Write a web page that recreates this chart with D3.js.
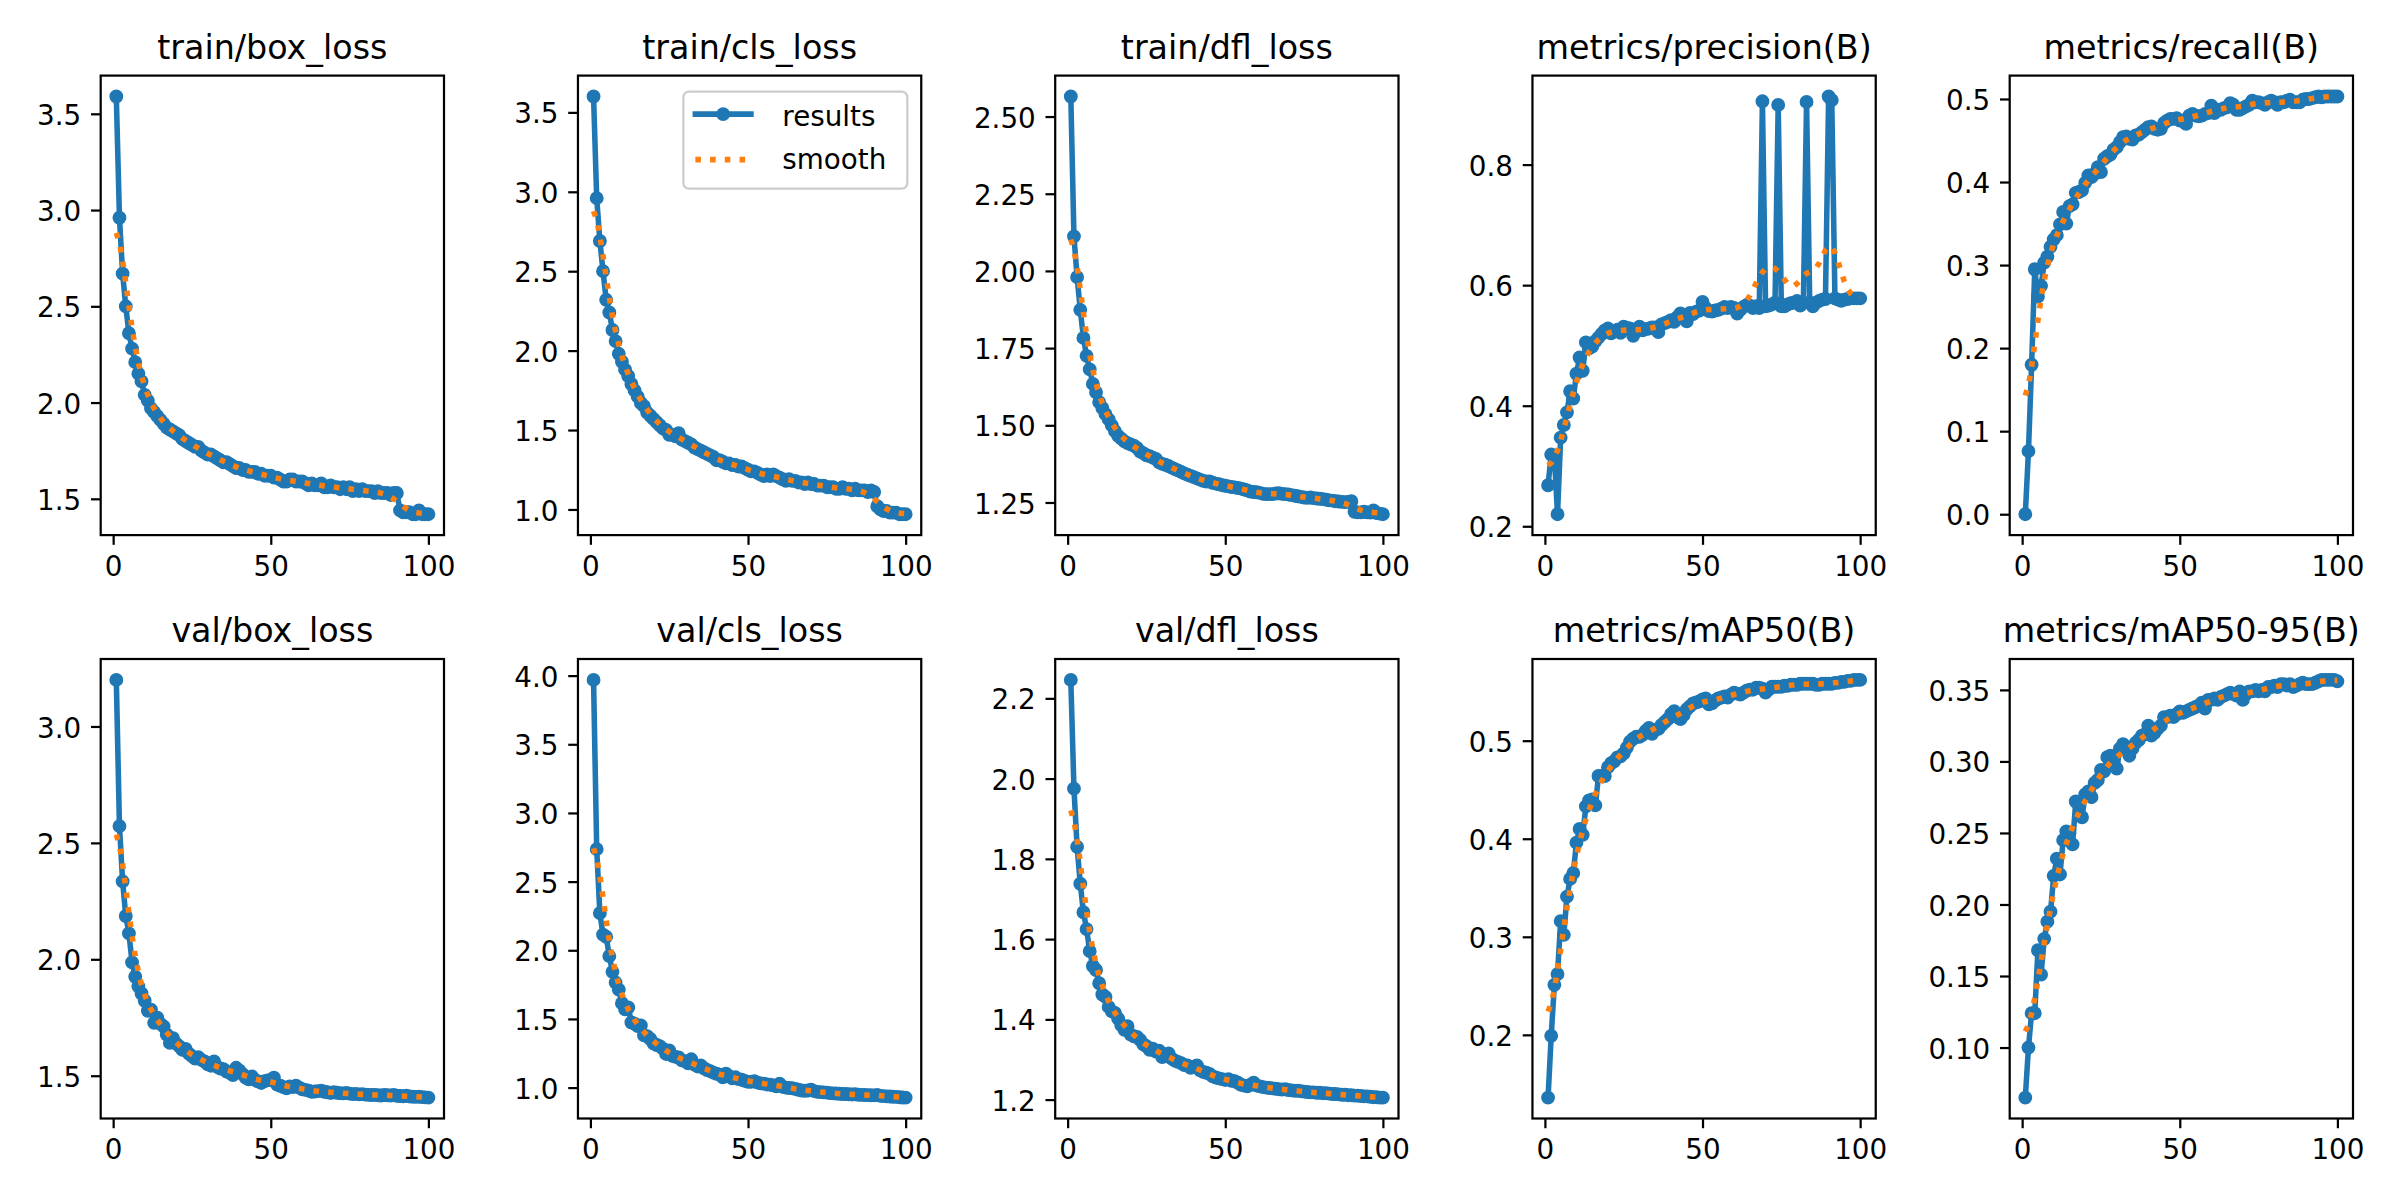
<!DOCTYPE html>
<html>
<head>
<meta charset="utf-8">
<script src="https://cdn.jsdelivr.net/npm/d3@7"></script>
<style>
  body { margin: 0; background: #ffffff; }
  svg { display: block; }
</style>
</head>
<body>
<svg id="chart" width="2400" height="1200"></svg>
<script>
// ---------------- DATA ----------------
const titles = [
  "train/box_loss", "train/cls_loss", "train/dfl_loss", "metrics/precision(B)", "metrics/recall(B)",
  "val/box_loss", "val/cls_loss", "val/dfl_loss", "metrics/mAP50(B)", "metrics/mAP50-95(B)"
];
const legendLabels = ["results", "smooth"];
const xTicks = [0, 50, 100];

const trainBoxLoss = [
  3.59, 2.96, 2.67, 2.50, 2.36, 2.28, 2.21, 2.15, 2.11, 2.04,
  2.01, 1.97, 1.95, 1.93, 1.91, 1.89, 1.87, 1.86, 1.85, 1.84,
  1.83, 1.81, 1.80, 1.79, 1.78, 1.77, 1.77, 1.75, 1.74, 1.73,
  1.73, 1.72, 1.71, 1.70, 1.69, 1.69, 1.68, 1.67, 1.66, 1.66,
  1.65, 1.65, 1.64, 1.64, 1.64, 1.63, 1.63, 1.62, 1.62, 1.62,
  1.61, 1.61, 1.60, 1.59, 1.59, 1.60, 1.60, 1.59, 1.59, 1.59,
  1.58, 1.57, 1.58, 1.57, 1.57, 1.58, 1.56, 1.56, 1.57, 1.56,
  1.56, 1.55, 1.56, 1.55, 1.56, 1.54, 1.55, 1.54, 1.55, 1.54,
  1.54, 1.54, 1.53, 1.54, 1.53, 1.53, 1.53, 1.52, 1.53, 1.53,
  1.44, 1.43, 1.43, 1.43, 1.42, 1.42, 1.44, 1.42, 1.42, 1.42
];
const trainClsLoss = [
  3.60, 2.96, 2.69, 2.50, 2.32, 2.24, 2.13, 2.06, 1.98, 1.93,
  1.88, 1.84, 1.79, 1.75, 1.71, 1.67, 1.65, 1.61, 1.59, 1.57,
  1.55, 1.53, 1.51, 1.50, 1.47, 1.47, 1.46, 1.48, 1.44, 1.43,
  1.42, 1.41, 1.39, 1.38, 1.37, 1.36, 1.35, 1.34, 1.33, 1.31,
  1.31, 1.30, 1.29, 1.29, 1.28, 1.28, 1.27, 1.27, 1.26, 1.25,
  1.24, 1.24, 1.23, 1.22, 1.21, 1.22, 1.21, 1.22, 1.21, 1.20,
  1.19, 1.18, 1.19, 1.18, 1.18, 1.17, 1.17, 1.16, 1.17, 1.16,
  1.16, 1.15, 1.15, 1.15, 1.14, 1.14, 1.14, 1.13, 1.13, 1.14,
  1.13, 1.13, 1.12, 1.13, 1.12, 1.12, 1.12, 1.11, 1.12, 1.11,
  1.02, 1.00, 0.99, 0.99, 0.98, 0.98, 0.98, 0.97, 0.97, 0.97
];
const trainDflLoss = [
  2.565, 2.112, 1.980, 1.874, 1.783, 1.725, 1.681, 1.634, 1.607, 1.575,
  1.556, 1.536, 1.519, 1.500, 1.481, 1.466, 1.457, 1.448, 1.442, 1.438,
  1.434, 1.427, 1.415, 1.410, 1.403, 1.400, 1.395, 1.391, 1.380, 1.375,
  1.372, 1.368, 1.363, 1.358, 1.354, 1.349, 1.344, 1.340, 1.336, 1.332,
  1.328, 1.324, 1.320, 1.318, 1.318, 1.314, 1.311, 1.309, 1.306, 1.304,
  1.302, 1.300, 1.299, 1.297, 1.295, 1.292, 1.289, 1.285, 1.284, 1.283,
  1.281, 1.278, 1.277, 1.277, 1.277, 1.279, 1.280, 1.278, 1.277, 1.276,
  1.274, 1.272, 1.270, 1.268, 1.266, 1.265, 1.266, 1.264, 1.263, 1.262,
  1.261, 1.259, 1.257, 1.256, 1.254, 1.253, 1.252, 1.251, 1.252, 1.254,
  1.220, 1.218, 1.218, 1.220, 1.218, 1.217, 1.224, 1.216, 1.214, 1.212
];
const precision = [
  0.268, 0.319, 0.317, 0.220, 0.347, 0.368, 0.389, 0.424, 0.412, 0.453,
  0.480, 0.458, 0.505, 0.495, 0.498, 0.507, 0.513, 0.519, 0.525, 0.528,
  0.520, 0.523, 0.526, 0.521, 0.531, 0.529, 0.528, 0.516, 0.524, 0.531,
  0.525, 0.527, 0.528, 0.530, 0.530, 0.522, 0.535, 0.537, 0.539, 0.542,
  0.539, 0.547, 0.553, 0.545, 0.540, 0.554, 0.552, 0.556, 0.558, 0.572,
  0.562, 0.557, 0.556, 0.558, 0.559, 0.561, 0.564, 0.562, 0.564, 0.562,
  0.553, 0.559, 0.564, 0.567, 0.566, 0.562, 0.565, 0.562, 0.905, 0.565,
  0.566, 0.568, 0.571, 0.899, 0.565, 0.565, 0.568, 0.570, 0.571, 0.574,
  0.566, 0.571, 0.904, 0.571, 0.565, 0.571, 0.574, 0.576, 0.577, 0.913,
  0.907, 0.578, 0.576, 0.574, 0.576, 0.577, 0.578, 0.578, 0.578, 0.578
];
const recall = [
  0.000, 0.076, 0.180, 0.295, 0.262, 0.275, 0.303, 0.310, 0.322, 0.331,
  0.336, 0.349, 0.364, 0.350, 0.371, 0.373, 0.387, 0.388, 0.390, 0.399,
  0.408, 0.406, 0.410, 0.418, 0.412, 0.428, 0.431, 0.433, 0.439, 0.442,
  0.448, 0.454, 0.455, 0.452, 0.451, 0.456, 0.457, 0.460, 0.463, 0.466,
  0.467, 0.464, 0.463, 0.464, 0.471, 0.474, 0.476, 0.476, 0.477, 0.474,
  0.474, 0.470, 0.480, 0.482, 0.480, 0.479, 0.480, 0.482, 0.483, 0.492,
  0.483, 0.487, 0.487, 0.489, 0.490, 0.495, 0.493, 0.487, 0.487, 0.489,
  0.491, 0.493, 0.498, 0.496, 0.496, 0.495, 0.493, 0.496, 0.498, 0.496,
  0.493, 0.496, 0.496, 0.498, 0.499, 0.496, 0.496, 0.496, 0.499, 0.500,
  0.500, 0.501, 0.502, 0.503, 0.502, 0.503, 0.503, 0.503, 0.503, 0.503
];
const valBoxLoss = [
  3.200, 2.572, 2.335, 2.186, 2.111, 1.987, 1.925, 1.884, 1.853, 1.822,
  1.779, 1.784, 1.727, 1.749, 1.723, 1.712, 1.677, 1.641, 1.661, 1.638,
  1.626, 1.611, 1.615, 1.595, 1.584, 1.574, 1.580, 1.568, 1.561, 1.549,
  1.543, 1.561, 1.538, 1.531, 1.528, 1.518, 1.512, 1.503, 1.534, 1.523,
  1.508, 1.492, 1.485, 1.497, 1.482, 1.475, 1.469, 1.477, 1.480, 1.482,
  1.492, 1.462, 1.457, 1.451, 1.446, 1.454, 1.451, 1.457, 1.449, 1.442,
  1.439, 1.436, 1.431, 1.432, 1.434, 1.436, 1.431, 1.429, 1.426, 1.429,
  1.427, 1.425, 1.424, 1.426, 1.423, 1.421, 1.422, 1.420, 1.421, 1.419,
  1.418, 1.417, 1.418, 1.416, 1.415, 1.417, 1.416, 1.415, 1.418, 1.414,
  1.413, 1.412, 1.414, 1.411, 1.410, 1.409, 1.410, 1.408, 1.407, 1.406
];
const valClsLoss = [
  3.969, 2.736, 2.270, 2.114, 2.098, 1.958, 1.843, 1.765, 1.713, 1.614,
  1.570, 1.583, 1.474, 1.466, 1.448, 1.453, 1.380, 1.375, 1.354, 1.323,
  1.310, 1.302, 1.284, 1.245, 1.271, 1.232, 1.224, 1.219, 1.198, 1.193,
  1.177, 1.206, 1.167, 1.154, 1.161, 1.141, 1.128, 1.120, 1.109, 1.101,
  1.094, 1.075, 1.101, 1.083, 1.068, 1.075, 1.062, 1.057, 1.049, 1.042,
  1.042, 1.047, 1.036, 1.031, 1.029, 1.023, 1.021, 1.016, 1.010, 1.029,
  1.005, 1.000, 0.997, 0.995, 0.990, 0.984, 0.979, 0.977, 0.979, 0.984,
  0.974, 0.969, 0.967, 0.965, 0.963, 0.960, 0.958, 0.957, 0.955, 0.953,
  0.953, 0.951, 0.950, 0.952, 0.948, 0.947, 0.946, 0.945, 0.944, 0.943,
  0.946, 0.940, 0.938, 0.936, 0.935, 0.933, 0.932, 0.930, 0.928, 0.927
];
const valDflLoss = [
  2.246, 1.975, 1.830, 1.738, 1.667, 1.625, 1.570, 1.533, 1.523, 1.490,
  1.462, 1.456, 1.431, 1.420, 1.416, 1.402, 1.386, 1.374, 1.383, 1.362,
  1.358, 1.356, 1.349, 1.338, 1.333, 1.324, 1.327, 1.320, 1.322, 1.306,
  1.309, 1.315, 1.302, 1.297, 1.294, 1.291, 1.286, 1.285, 1.279, 1.282,
  1.285, 1.273, 1.269, 1.267, 1.264, 1.258, 1.255, 1.253, 1.251, 1.249,
  1.251, 1.247, 1.246, 1.242, 1.237, 1.235, 1.233, 1.237, 1.242, 1.235,
  1.233, 1.231, 1.230, 1.229, 1.228, 1.227, 1.226, 1.225, 1.226, 1.224,
  1.223, 1.222, 1.222, 1.221, 1.220, 1.219, 1.218, 1.218, 1.217, 1.217,
  1.216, 1.216, 1.215, 1.214, 1.214, 1.213, 1.212, 1.212, 1.211, 1.211,
  1.210, 1.210, 1.209, 1.208, 1.208, 1.207, 1.206, 1.206, 1.205, 1.205
];
const mAP50 = [
  0.136, 0.199, 0.251, 0.262, 0.316, 0.302, 0.341, 0.359, 0.365, 0.396,
  0.410, 0.404, 0.433, 0.439, 0.440, 0.434, 0.464, 0.464, 0.464, 0.473,
  0.477, 0.479, 0.483, 0.484, 0.487, 0.493, 0.499, 0.502, 0.504, 0.504,
  0.506, 0.510, 0.513, 0.507, 0.511, 0.512, 0.516, 0.519, 0.522, 0.527,
  0.530, 0.524, 0.522, 0.526, 0.532, 0.535, 0.538, 0.539, 0.540, 0.542,
  0.543, 0.537, 0.538, 0.541, 0.543, 0.544, 0.545, 0.544, 0.547, 0.549,
  0.548, 0.547, 0.549, 0.551, 0.552, 0.552, 0.554, 0.554, 0.553, 0.549,
  0.552, 0.555, 0.555, 0.555, 0.555, 0.556, 0.556, 0.557, 0.557, 0.557,
  0.558, 0.558, 0.558, 0.558, 0.558, 0.557, 0.557, 0.558, 0.558, 0.558,
  0.558, 0.559, 0.559, 0.560, 0.560, 0.561, 0.561, 0.562, 0.562, 0.562
];
const mAP5095 = [
  0.065, 0.100, 0.124, 0.124, 0.168, 0.151, 0.176, 0.188, 0.195, 0.220,
  0.232, 0.221, 0.245, 0.251, 0.250, 0.242, 0.272, 0.270, 0.261, 0.277,
  0.279, 0.275, 0.285, 0.287, 0.294, 0.293, 0.303, 0.304, 0.300, 0.295,
  0.309, 0.312, 0.310, 0.304, 0.309, 0.313, 0.315, 0.318, 0.319, 0.325,
  0.318, 0.320, 0.323, 0.325, 0.331, 0.331, 0.332, 0.331, 0.333, 0.335,
  0.334, 0.335, 0.336, 0.337, 0.338, 0.339, 0.341, 0.337, 0.343, 0.343,
  0.344, 0.343, 0.345, 0.346, 0.347, 0.348, 0.347, 0.346, 0.349, 0.343,
  0.347, 0.349, 0.349, 0.350, 0.349, 0.350, 0.349, 0.352, 0.352, 0.353,
  0.352, 0.354, 0.354, 0.353, 0.354, 0.352, 0.353, 0.354, 0.355, 0.354,
  0.354, 0.354, 0.355, 0.356, 0.357, 0.357, 0.357, 0.357, 0.357, 0.356
];

const yTicks = [
  [1.5, 2.0, 2.5, 3.0, 3.5],
  [1.0, 1.5, 2.0, 2.5, 3.0, 3.5],
  [1.25, 1.50, 1.75, 2.00, 2.25, 2.50],
  [0.2, 0.4, 0.6, 0.8],
  [0.0, 0.1, 0.2, 0.3, 0.4, 0.5],
  [1.5, 2.0, 2.5, 3.0],
  [1.0, 1.5, 2.0, 2.5, 3.0, 3.5, 4.0],
  [1.2, 1.4, 1.6, 1.8, 2.0, 2.2],
  [0.2, 0.3, 0.4, 0.5],
  [0.10, 0.15, 0.20, 0.25, 0.30, 0.35]
];
const yTickDecimals = [1, 1, 2, 1, 1, 1, 1, 1, 1, 2];

const seriesList = [trainBoxLoss, trainClsLoss, trainDflLoss, precision, recall,
                    valBoxLoss, valClsLoss, valDflLoss, mAP50, mAP5095];

// ---------------- LAYOUT / STYLE ----------------
const PT = 200 / 72;                 // px per point (200 dpi)
const FONT = "'DejaVu Sans', 'Liberation Sans', sans-serif";
const tickFont = 10 * PT;            // 27.78 px
const titleFont = 12 * PT;           // 33.33 px
const blue = "#1f77b4", orange = "#ff7f0e";
const axLeft0 = 100.7, colStep = 477.25, axW = 343.3;
const rowTops = [75.6, 659.0], axH = 459.5;

function gaussianSmooth(y, sigma) {
  const r = Math.floor(4 * sigma + 0.5);
  const w = []; let s = 0;
  for (let k = -r; k <= r; k++) { const v = Math.exp(-0.5 * k * k / (sigma * sigma)); w.push(v); s += v; }
  const n = y.length;
  const idx = i => { while (i < 0 || i >= n) { if (i < 0) i = -i - 1; else i = 2 * n - i - 1; } return i; };
  return y.map((_, i) => { let acc = 0; for (let k = -r; k <= r; k++) acc += w[k + r] * y[idx(i + k)]; return acc; }).map(v => v / s);
}

const svg = d3.select("#chart");
svg.append("rect").attr("width", 2400).attr("height", 1200).attr("fill", "#ffffff");
const defs = svg.append("defs");

seriesList.forEach((vals, p) => {
  const row = Math.floor(p / 5), col = p % 5;
  const x0 = axLeft0 + col * colStep, y0 = rowTops[row];
  const epochs = vals.map((_, i) => i + 1);
  const smooth = gaussianSmooth(vals, 3);

  const xMin = d3.min(epochs), xMax = d3.max(epochs), xr = xMax - xMin;
  const x = d3.scaleLinear().domain([xMin - 0.05 * xr, xMax + 0.05 * xr]).range([0, axW]);
  const lo = Math.min(d3.min(vals), d3.min(smooth)), hi = Math.max(d3.max(vals), d3.max(smooth));
  const yr = hi - lo;
  const y = d3.scaleLinear().domain([lo - 0.05 * yr, hi + 0.05 * yr]).range([axH, 0]);

  const g = svg.append("g").attr("transform", `translate(${x0},${y0})`);
  const clipId = "clip" + p;
  defs.append("clipPath").attr("id", clipId).append("rect").attr("width", axW).attr("height", axH);

  const plot = g.append("g").attr("clip-path", `url(#${clipId})`);
  const line = d3.line().x((d, i) => x(epochs[i])).y(d => y(d));

  plot.append("path").datum(vals).attr("d", line)
    .attr("fill", "none").attr("stroke", blue).attr("stroke-width", 2 * PT)
    .attr("stroke-linejoin", "round").attr("stroke-linecap", "square");
  plot.append("g").selectAll("circle").data(vals).join("circle")
    .attr("cx", (d, i) => x(epochs[i])).attr("cy", d => y(d))
    .attr("r", 2 * PT).attr("fill", blue).attr("stroke", blue).attr("stroke-width", 1 * PT);
  plot.append("path").datum(smooth).attr("d", line)
    .attr("fill", "none").attr("stroke", orange).attr("stroke-width", 2 * PT)
    .attr("stroke-dasharray", `${2 * PT} ${3.3 * PT}`).attr("stroke-linecap", "butt");

  // spines
  g.append("rect").attr("width", axW).attr("height", axH)
    .attr("fill", "none").attr("stroke", "#000").attr("stroke-width", 0.8 * PT);

  // axes
  const tickLen = 3.5 * PT, tickPad = 3.5 * PT;
  const xa = g.append("g").attr("transform", `translate(0,${axH})`)
    .call(d3.axisBottom(x).tickValues(xTicks).tickFormat(d3.format("d")).tickSize(tickLen).tickPadding(tickPad));
  const dec = yTickDecimals[p];
  const ya = g.append("g")
    .call(d3.axisLeft(y).tickValues(yTicks[p]).tickFormat(d => d.toFixed(dec)).tickSize(tickLen).tickPadding(tickPad));
  [xa, ya].forEach(a => {
    a.select(".domain").remove();
    a.attr("font-family", FONT).attr("font-size", tickFont);
    a.selectAll("line").attr("stroke", "#000").attr("stroke-width", 0.8 * PT);
    a.selectAll("text").attr("fill", "#000");
  });
  xa.selectAll("text").attr("dy", "0.76em");
  ya.selectAll("text").attr("dy", "0.38em");

  // title
  g.append("text").attr("x", axW / 2).attr("y", -6 * PT)
    .attr("text-anchor", "middle").attr("font-family", FONT).attr("font-size", titleFont)
    .attr("fill", "#000").text(titles[p]);

  // legend on the second panel
  if (p === 1) {
    const lw = 224, lh = 97;
    const lx = axW - 0.5 * tickFont - lw, ly = 16;
    const lg = g.append("g").attr("transform", `translate(${lx},${ly})`);
    lg.append("rect").attr("width", lw).attr("height", lh).attr("rx", 0.2 * tickFont)
      .attr("fill", "#ffffff").attr("fill-opacity", 0.8)
      .attr("stroke", "#cccccc").attr("stroke-width", 0.8 * PT);
    const hx0 = 12, hx1 = 12 + 2 * tickFont;
    const rowsY = [22.5, 68];
    const baseY = [34.5, 77.8];
    lg.append("line").attr("x1", hx0).attr("x2", hx1).attr("y1", rowsY[0]).attr("y2", rowsY[0])
      .attr("stroke", blue).attr("stroke-width", 2 * PT).attr("stroke-linecap", "square");
    lg.append("circle").attr("cx", (hx0 + hx1) / 2).attr("cy", rowsY[0]).attr("r", 2 * PT)
      .attr("fill", blue).attr("stroke", blue).attr("stroke-width", 1 * PT);
    lg.append("line").attr("x1", hx0).attr("x2", hx1).attr("y1", rowsY[1]).attr("y2", rowsY[1])
      .attr("stroke", orange).attr("stroke-width", 2 * PT)
      .attr("stroke-dasharray", `${2 * PT} ${3.3 * PT}`).attr("stroke-linecap", "butt");
    legendLabels.forEach((t, i) => {
      lg.append("text").attr("x", 99).attr("y", baseY[i])
        .attr("font-family", FONT).attr("font-size", tickFont).attr("fill", "#000").text(t);
    });
  }
});
</script>
</body>
</html>
